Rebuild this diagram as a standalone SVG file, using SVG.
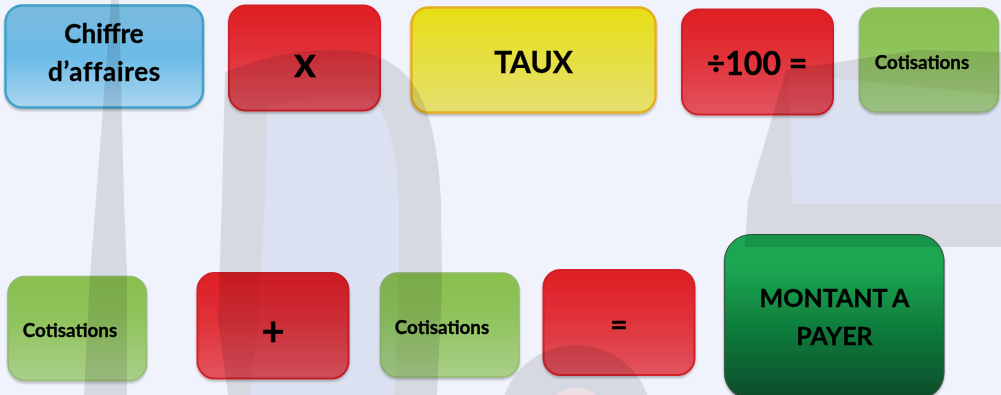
<svg xmlns="http://www.w3.org/2000/svg" width="1001" height="395" viewBox="0 0 1001 395">
<defs>
<linearGradient id="gb" x1="0" y1="0" x2="0" y2="1"><stop offset="0" stop-color="#82c2e2"/><stop offset=".5" stop-color="#72c5eb"/><stop offset="1" stop-color="#b6e0f4"/></linearGradient>
<linearGradient id="gr" x1="0" y1="0" x2="0" y2="1"><stop offset="0" stop-color="#ee1f23"/><stop offset=".45" stop-color="#ee3339"/><stop offset="1" stop-color="#f0585f"/></linearGradient>
<linearGradient id="gy" x1="0" y1="0" x2="0" y2="1"><stop offset="0" stop-color="#f6ea15"/><stop offset="1" stop-color="#f4ea72"/></linearGradient>
<linearGradient id="gg" x1="0" y1="0" x2="0" y2="1"><stop offset="0" stop-color="#92c94f"/><stop offset=".4" stop-color="#98cd5c"/><stop offset="1" stop-color="#b4d98c"/></linearGradient>
<linearGradient id="gd" x1="0" y1="0" x2="0" y2="1"><stop offset="0" stop-color="#1cae52"/><stop offset=".2" stop-color="#1cae52"/><stop offset=".55" stop-color="#10853e"/><stop offset="1" stop-color="#0d4e28"/></linearGradient>
<filter id="sh" x="-5%" y="-5%" width="110%" height="115%"><feDropShadow dx="0" dy="2" stdDeviation="1.200" flood-color="#000" flood-opacity=".25"/></filter>
</defs>
<style>
.box{filter:url(#sh);mix-blend-mode:multiply}
.t{font-family:"Lato","Carlito","Liberation Sans",sans-serif;font-weight:700;fill:#000;stroke:#000;stroke-width:.35;text-anchor:middle}
.wm{fill:#d6d9e2}.wi{fill:#dbe1f0}
.r{fill:url(#gr);stroke:#e0232b;stroke-width:2}
.g{fill:url(#gg);stroke:#9cc272;stroke-width:1.500}
</style>
<rect width="1001" height="395" fill="#f0f3fb"/>
<g id="watermark">
<path class="wm" d="M111 0H119L124 200L127 275L127 395H84L90 275L96 200Z"/>
<path class="wm" d="M225 72C270 55 300 50 335 50C410 50 436 95 441 200L442 290L437 395H228L218 320L222 200Z"/>
<path class="wi" d="M267 108C300 97 330 93 355 93C385 95 396 140 399 200L399 290L394 395H250L258 320L265 200Z"/>
<path class="wm" d="M786 70L917 50L1001 52V247H745L748 200Z"/>
<path class="wi" d="M789 74L1001 95V204H792Z"/>
<circle class="wm" cx="576" cy="421" r="76"/>
<circle fill="#eedfe6" cx="576" cy="421" r="33"/>
</g>
<g id="connectors"></g>
<g id="n1"><rect class="box" x="5.500" y="5.500" width="197.500" height="102" rx="17" fill="url(#gb)" stroke="#44a8ca" stroke-width="2.500"/><text class="t" x="104" y="43" font-size="26">Chiffre</text><text class="t" x="104.500" y="81" font-size="26" letter-spacing=".7">d’affaires</text></g>
<g id="n2"><rect class="box r" x="229" y="5.500" width="151" height="105" rx="17"/><text class="t" x="305" y="77" font-size="42">x</text></g>
<g id="n3"><rect class="box" x="411.500" y="7.500" width="244" height="105" rx="17" fill="url(#gy)" stroke="#f5b820" stroke-width="2.500"/><text class="t" x="533.500" y="73" font-size="30">TAUX</text></g>
<g id="n4"><rect class="box r" x="682" y="9.500" width="151" height="105" rx="17"/><text class="t" x="757" y="75" font-size="32">÷100 =</text></g>
<g id="n5"><rect class="box g" x="859.500" y="8" width="139" height="104" rx="17"/><text class="t" x="922" y="69" font-size="18.800">Cotisations</text></g>
<g id="n6"><rect class="box g" x="8" y="276.500" width="138.500" height="104" rx="17"/><text class="t" x="70" y="337" font-size="18.800">Cotisations</text></g>
<g id="n7"><rect class="box r" x="197.500" y="273" width="151" height="105.500" rx="17"/><text class="t" x="273" y="345" font-size="40">+</text></g>
<g id="n8"><rect class="box g" x="380.500" y="273" width="138.500" height="104" rx="17"/><text class="t" x="442" y="334" font-size="18.800">Cotisations</text></g>
<g id="n9"><rect class="box r" x="543.500" y="270" width="151" height="105" rx="17"/><text class="t" x="619" y="335" font-size="30">=</text></g>
<g id="n10"><rect class="box" x="724.500" y="234.500" width="219.500" height="165" rx="27" fill="url(#gd)" stroke="#3c5a44" stroke-width="1.200"/><text class="t" x="834.500" y="307" font-size="25">MONTANT A</text><text class="t" x="834.500" y="345" font-size="25">PAYER</text></g>
</svg>
